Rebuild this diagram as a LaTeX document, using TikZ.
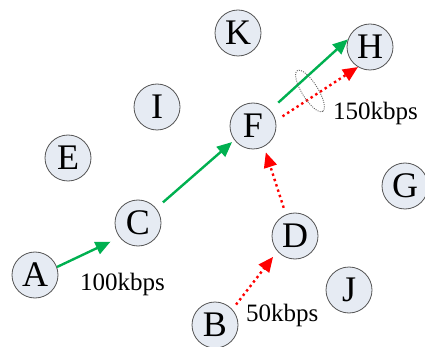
\documentclass[tikz,border=0pt]{standalone}
\usepackage{fontspec}
\setmainfont{Liberation Serif}
\usetikzlibrary{arrows.meta}
\definecolor{nodefill}{HTML}{E6EBF3}
\definecolor{nodeline}{HTML}{555555}
\definecolor{flowgreen}{HTML}{00B050}
\definecolor{flowred}{HTML}{FF0000}
\tikzset{
  peer/.style={circle, draw=nodeline, line width=0.8pt, fill=nodefill,
    minimum size=46pt, inner sep=0pt, font=\fontsize{36}{36}\selectfont},
  greenflow/.style={draw=flowgreen, line width=2.4pt,
    -{Triangle[length=15pt,width=13pt]}},
  redflow/.style={draw=flowred, line width=2.4pt, dash pattern=on 2.4pt off 3.2pt,
    -{Triangle[length=15pt,width=13pt]}},
  rate/.style={anchor=base west, inner sep=0pt, font=\fontsize{25}{25}\selectfont},
  bundle/.style={draw=black!60, line width=0.9pt, dash pattern=on 1pt off 1.2pt}
}
\begin{document}
\begin{tikzpicture}[x=1pt,y=-1pt]
  \useasboundingbox (0,0) rectangle (425,347);
  % peers
  \node[peer] (A) at (35,275) {A};
  \node[peer] (B) at (215,325) {B};
  \node[peer] (C) at (138,223) {C};
  \node[peer] (D) at (295,236) {D};
  \node[peer] (E) at (68,158) {E};
  \node[peer] (F) at (253,126) {F};
  \node[peer] (G) at (405,186) {G};
  \node[peer] (H) at (370,47) {H};
  \node[peer] (I) at (157,107) {I};
  \node[peer] (J) at (349,290) {J};
  \node[peer] (K) at (238,33) {K};
  % green stream A -> C -> F -> H
  \draw[greenflow, shorten >=10pt] (A.20) -- (C.218);
  \draw[greenflow, shorten <=9pt, shorten >=3pt] (C.39) -- (F.217);
  \draw[greenflow, shorten <=11pt] (F.43) -- (H.161);
  % red stream B -> D -> F -> H
  \draw[redflow, shorten <=6pt, shorten >=7pt] (B.42) -- (D.221);
  \draw[redflow, shorten <=7pt, shorten >=6pt] (D.113) -- (F.298);
  \draw[redflow, shorten <=8pt] (F.13) -- (H.239);
  % the shared F -> H link
  \draw[bundle, rotate around={-58:(310,91)}] (310,91) ellipse [x radius=24, y radius=8];
  % rates
  \node[rate] (r1) at (80,290) {100kbps};
  \node[rate] (r2) at (333,120) {150kbps};
  \node[rate] (r3) at (246,321) {50kbps};
\end{tikzpicture}
\end{document}
